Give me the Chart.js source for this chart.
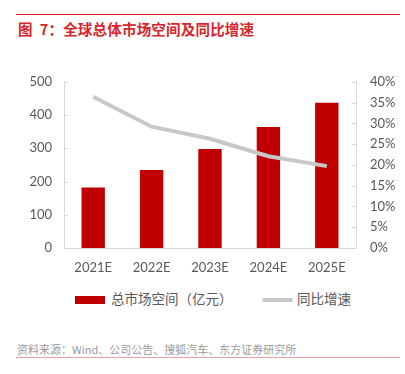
<!DOCTYPE html>
<html>
<head>
<meta charset="utf-8">
<script src="https://cdn.jsdelivr.net/npm/chart.js@4"></script>
<style>
  body { margin: 0; background: #fff; width: 405px; height: 374px; position: relative; overflow: hidden; font-family: "Noto Sans CJK SC", sans-serif; }
  .rule { position: absolute; left: 16px; width: 384px; height: 1px; }
  #title { position: absolute; left: 18px; top: 18px; font-size: 14.5px; font-weight: bold; color: #d6262b; letter-spacing: 0.2px; white-space: pre; }
  #chartBox { position: absolute; left: 0; top: 60px; width: 405px; height: 225px; }
  #legend { position: absolute; top: 288px; left: 0; width: 405px; height: 20px; font-size: 13.5px; color: #595959; }
  .item { position: absolute; top: 0; line-height: 20px; white-space: nowrap; }
  #source { position: absolute; left: 17px; top: 341px; font-size: 11px; color: #9a9a9a; white-space: nowrap; }
</style>
</head>
<body>
<div class="rule" style="top:14px;background:#d6262b"></div>
<div id="title">图  7：全球总体市场空间及同比增速</div>
<div id="chartBox"><canvas id="chart"></canvas></div>
<div id="legend"></div>
<div id="source">资料来源：Wind、公司公告、搜狐汽车、东方证券研究所</div>
<div class="rule" style="top:357px;background:#eca3a3"></div>
<script>
const years = ["2021E", "2022E", "2023E", "2024E", "2025E"];
const marketSize = [182, 235, 298, 364, 437];
const growthRate = [36.4, 29.2, 26.3, 22.1, 19.7];
const barLabel = "总市场空间（亿元）";
const lineLabel = "同比增速";

const tickFont = { family: "Lato, 'Noto Sans CJK SC', sans-serif", size: 13 };
const axisGray = "#d9d9d9";

// short tick marks pointing into the plot, like the original
const innerTicks = {
  id: "innerTicks",
  afterDraw(chart) {
    const c = chart.ctx;
    const yL = chart.scales.y, yR = chart.scales.y1;
    c.save();
    c.strokeStyle = axisGray;
    c.lineWidth = 1;
    yL.ticks.forEach(t => {
      const p = Math.round(yL.getPixelForValue(t.value)) + 0.5;
      c.beginPath(); c.moveTo(yL.right, p); c.lineTo(yL.right + 4, p); c.stroke();
    });
    yR.ticks.forEach(t => {
      const p = Math.round(yR.getPixelForValue(t.value)) + 0.5;
      c.beginPath(); c.moveTo(yR.left - 4, p); c.lineTo(yR.left, p); c.stroke();
    });
    c.restore();
  }
};

new Chart(document.getElementById("chart"), {
  data: {
    labels: years,
    datasets: [
      {
        type: "line",
        label: lineLabel,
        data: growthRate,
        yAxisID: "y1",
        borderColor: "#c8c8c8",
        borderWidth: 4,
        pointRadius: 0,
        tension: 0,
        order: 0
      },
      {
        type: "bar",
        label: barLabel,
        data: marketSize,
        yAxisID: "y",
        backgroundColor: "#c00000",
        barPercentage: 0.8,
        categoryPercentage: 0.5,
        order: 1
      }
    ]
  },
  options: {
    responsive: true,
    maintainAspectRatio: false,
    animation: false,
    layout: { padding: { top: 11, left: 0, right: 0, bottom: 0 } },
    plugins: { legend: { display: false }, tooltip: { enabled: false } },
    scales: {
      x: {
        grid: { display: false, drawTicks: false },
        border: { color: axisGray },
        ticks: { color: "#595959", font: tickFont, padding: 12 },
        afterFit(s) { s.height = 37; }
      },
      y: {
        position: "left",
        min: 0, max: 500,
        grid: { display: false, drawTicks: false },
        border: { color: axisGray },
        ticks: { stepSize: 100, color: "#595959", font: tickFont, padding: 12 },
        afterFit(s) { s.width = 64; }
      },
      y1: {
        position: "right",
        min: 0, max: 40,
        grid: { display: false, drawTicks: false },
        border: { color: axisGray },
        ticks: { stepSize: 5, color: "#595959", font: tickFont, padding: 14, callback: v => v + "%" },
        afterFit(s) { s.width = 49; }
      }
    }
  },
  plugins: [innerTicks]
});

const legend = document.getElementById("legend");
legend.innerHTML =
  '<div class="item" style="left:75px"><span style="display:inline-block;width:30px;height:8px;background:#c00000;vertical-align:middle;margin-right:6px"></span>' + barLabel + '</div>' +
  '<div class="item" style="left:262px"><span style="display:inline-block;width:31px;height:4px;background:#c8c8c8;vertical-align:middle;margin-right:4px;border-radius:2px"></span>' + lineLabel + '</div>';
</script>
</body>
</html>
